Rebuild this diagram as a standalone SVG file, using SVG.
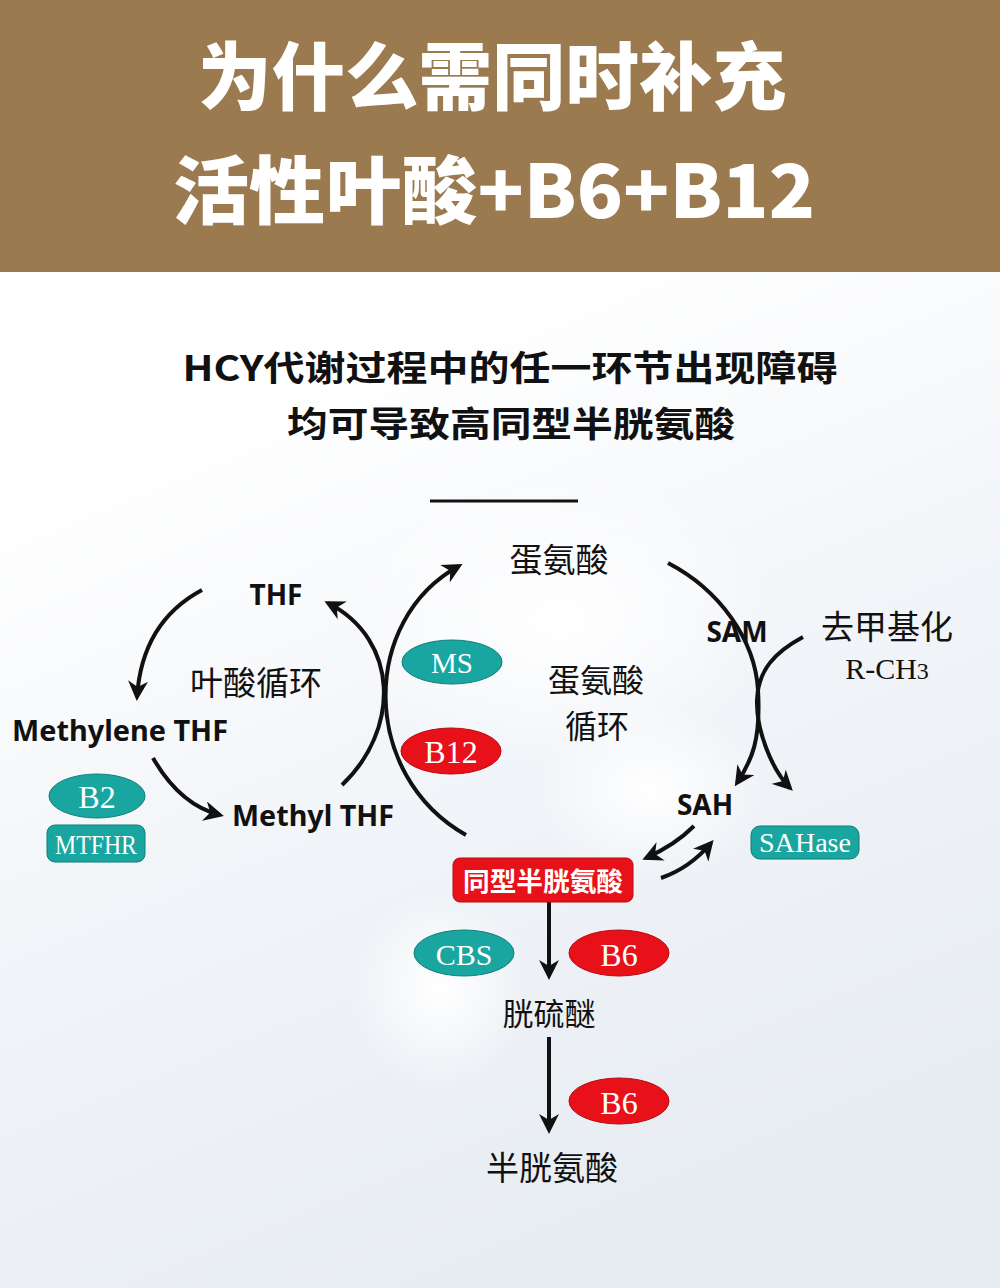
<svg xmlns="http://www.w3.org/2000/svg" width="1000" height="1288" viewBox="0 0 1000 1288">
<style>
.cjk{font-family:"Noto Sans CJK SC","Noto Sans",sans-serif;fill:#111}
.lat{font-family:"Noto Sans","Liberation Sans",sans-serif;font-weight:700;fill:#111}
.ser{font-family:"Liberation Serif","Noto Serif",serif;fill:#fff}
.teal{fill:#1aa6a0;stroke:#0f7d78;stroke-width:1}
.red{fill:#e8111a;stroke:#b50a10;stroke-width:1}
.con{fill:none;stroke:#111;stroke-width:4}
</style>
<defs>
<marker id="ah" viewBox="0 0 10 10" refX="8" refY="5" markerWidth="5" markerHeight="5" orient="auto" markerUnits="strokeWidth">
<path d="M0,0 L10,5 L0,10 L3,5 Z" fill="#111"/>
</marker>
<linearGradient id="bg" x1="0" y1="0" x2="0.4" y2="1">
<stop offset="0" stop-color="#ffffff"/>
<stop offset="0.2" stop-color="#ffffff"/>
<stop offset="0.6" stop-color="#f1f4f8"/>
<stop offset="1" stop-color="#e8edf3"/>
</linearGradient>
<radialGradient id="blob">
<stop offset="0" stop-color="#ffffff" stop-opacity="1"/>
<stop offset="1" stop-color="#ffffff" stop-opacity="0"/>
</radialGradient>
</defs>
<rect x="0" y="272" width="1000" height="1016" fill="url(#bg)"/>
<ellipse cx="440" cy="990" rx="90" ry="100" fill="url(#blob)"/>
<ellipse cx="650" cy="790" rx="120" ry="90" fill="url(#blob)"/>
<ellipse cx="560" cy="620" rx="220" ry="150" fill="url(#blob)"/>
<rect x="0" y="0" width="1000" height="272" fill="#9a7a4e"/>
<g id="title" font-family="Noto Sans CJK SC, sans-serif" font-weight="900" fill="#fff" text-anchor="middle">
<text x="492" y="104" font-size="74" textLength="588" lengthAdjust="spacingAndGlyphs">为什么需同时补充</text>
<text x="494" y="218" font-size="74" textLength="642" lengthAdjust="spacingAndGlyphs">活性叶酸+B6+B12</text>
</g>
<g id="subtitle" class="cjk" font-weight="700" text-anchor="middle">
<text x="510" y="381" font-size="35" textLength="655" lengthAdjust="spacingAndGlyphs">HCY代谢过程中的任一环节出现障碍</text>
<text x="511" y="437" font-size="35" textLength="448" lengthAdjust="spacingAndGlyphs">均可导致高同型半胱氨酸</text>
</g>
<line x1="430" y1="501" x2="578" y2="501" stroke="#111" stroke-width="3"/>
<g id="connectors">
<path class="con" d="M202 590 Q142 622 137 697" marker-end="url(#ah)"/>
<path class="con" d="M153 758 Q180 805 220 815" marker-end="url(#ah)"/>
<path class="con" d="M342 785 C400 730 400 640 328 603" marker-end="url(#ah)"/>
<path class="con" d="M466 835 C360 775 360 620 459 566" marker-end="url(#ah)"/>
<path class="con" d="M668 563 C720 590 755 640 758 690 S752 760 737 783" marker-end="url(#ah)"/>
<path class="con" d="M803 637 C775 652 758 670 757 700 S772 770 790 788" marker-end="url(#ah)"/>
<path class="con" d="M694 826 Q675 845 646 858" marker-end="url(#ah)"/>
<path class="con" d="M661 878 Q690 868 711 843" marker-end="url(#ah)"/>
<path class="con" d="M549 902 L549 976" marker-end="url(#ah)"/>
<path class="con" d="M549 1037 L549 1130" marker-end="url(#ah)"/>
</g>
<g id="n-met"><text class="cjk" x="559" y="572" font-size="33" text-anchor="middle">蛋氨酸</text></g>
<g id="n-thf"><text class="lat" x="276" y="605" font-size="28" text-anchor="middle">THF</text></g>
<g id="n-folate"><text class="cjk" x="256" y="695" font-size="33" text-anchor="middle">叶酸循环</text></g>
<g id="n-methylene"><text class="lat" x="120" y="741" font-size="28" text-anchor="middle" textLength="216" lengthAdjust="spacingAndGlyphs">Methylene THF</text></g>
<g id="n-methyl"><text class="lat" x="313" y="826" font-size="28" text-anchor="middle" textLength="162" lengthAdjust="spacingAndGlyphs">Methyl THF</text></g>
<g id="n-b2"><ellipse class="teal" cx="97" cy="796" rx="48" ry="22"/><text class="ser" x="97" y="808" font-size="32" text-anchor="middle">B2</text></g>
<g id="n-mtfhr"><rect class="teal" x="47" y="825" width="98" height="37" rx="8"/><text class="ser" x="96" y="854" font-size="27" text-anchor="middle" textLength="82" lengthAdjust="spacingAndGlyphs">MTFHR</text></g>
<g id="n-ms"><ellipse class="teal" cx="452" cy="662" rx="50" ry="22"/><text class="ser" x="452" y="673" font-size="29" text-anchor="middle">MS</text></g>
<g id="n-b12"><ellipse class="red" cx="451" cy="751" rx="50" ry="23"/><text class="ser" x="451" y="763" font-size="32" text-anchor="middle">B12</text></g>
<g id="n-metcycle"><text class="cjk" x="596" y="692" font-size="32" text-anchor="middle">蛋氨酸</text><text class="cjk" x="597" y="738" font-size="32" text-anchor="middle">循环</text></g>
<g id="n-sam"><text class="lat" x="737" y="642" font-size="28" text-anchor="middle">SAM</text></g>
<g id="n-demeth"><text class="cjk" x="887" y="639" font-size="33" text-anchor="middle">去甲基化</text><text x="887" y="679" font-family="Liberation Serif, serif" font-size="30" fill="#111" text-anchor="middle">R-CH<tspan font-size="24">3</tspan></text></g>
<g id="n-sah"><text class="lat" x="705" y="815" font-size="28" text-anchor="middle">SAH</text></g>
<g id="n-sahase"><rect class="teal" x="751" y="826" width="108" height="33" rx="9"/><text class="ser" x="805" y="852" font-size="27" text-anchor="middle" textLength="92" lengthAdjust="spacingAndGlyphs">SAHase</text></g>
<g id="n-hcy"><rect class="red" x="453" y="858" width="180" height="44" rx="7"/><text x="543" y="891" font-family="Noto Sans CJK SC, sans-serif" font-weight="700" font-size="26" fill="#fff" text-anchor="middle" textLength="160" lengthAdjust="spacingAndGlyphs">同型半胱氨酸</text></g>
<g id="n-cbs"><ellipse class="teal" cx="464" cy="953" rx="50" ry="23"/><text class="ser" x="464" y="965" font-size="30" text-anchor="middle">CBS</text></g>
<g id="n-b6a"><ellipse class="red" cx="619" cy="953" rx="50" ry="23"/><text class="ser" x="619" y="966" font-size="32" text-anchor="middle">B6</text></g>
<g id="n-cysta"><text class="cjk" x="549" y="1025" font-size="31" text-anchor="middle">胱硫醚</text></g>
<g id="n-b6b"><ellipse class="red" cx="619" cy="1101" rx="50" ry="23"/><text class="ser" x="619" y="1114" font-size="32" text-anchor="middle">B6</text></g>
<g id="n-cys"><text class="cjk" x="552" y="1180" font-size="33" text-anchor="middle">半胱氨酸</text></g>
</svg>
